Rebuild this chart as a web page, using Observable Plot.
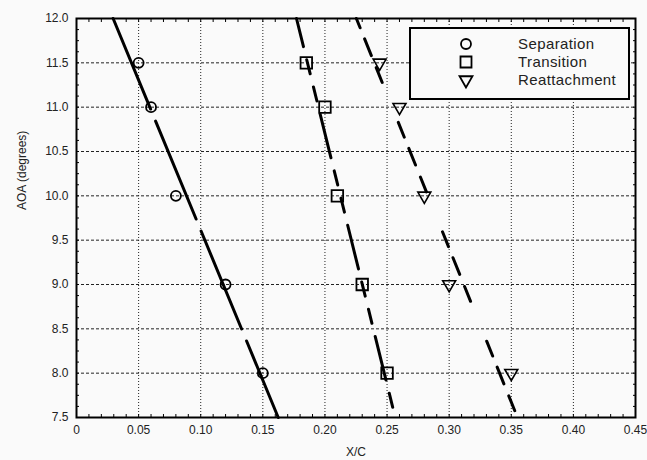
<!DOCTYPE html>
<html><head><meta charset="utf-8">
<script src="https://cdn.jsdelivr.net/npm/d3@7"></script>
<script src="https://cdn.jsdelivr.net/npm/@observablehq/plot@0.6"></script>
<style>
html,body{margin:0;padding:0;background:#fafafa;overflow:hidden;}
#chart{position:relative;width:647px;height:460px;}
#chart svg{display:block;}
</style></head><body><div id="chart"></div>
<script>
const seriesNames = ["Separation", "Transition", "Reattachment"];
const sepX = [0.05, 0.06, 0.08, 0.12, 0.15];
const sepY = [11.5, 11.0, 10.0, 9.0, 8.0];
const traX = [0.185, 0.20, 0.21, 0.23, 0.25];
const traY = [11.5, 11.0, 10.0, 9.0, 8.0];
const reaX = [0.244, 0.26, 0.28, 0.30, 0.35];
const reaY = [11.5, 11.0, 10.0, 9.0, 8.0];
// fitted lines, endpoints read where they meet the frame
const sepFitX = [0.0295, 0.1624];
const sepFitY = [12.0, 7.5];
const traFitX = [0.1771, 0.2566];
const traFitY = [12.0, 7.5];
const reaFitX = [0.2253, 0.355];
const reaFitY = [12.0, 7.5];
const xTicks = [0, 0.05, 0.10, 0.15, 0.20, 0.25, 0.30, 0.35, 0.40, 0.45];
const xTickLabels = ["0", "0.05", "0.10", "0.15", "0.20", "0.25", "0.30", "0.35", "0.40", "0.45"];
const yTicks = [7.5, 8.0, 8.5, 9.0, 9.5, 10.0, 10.5, 11.0, 11.5, 12.0];
const yTickLabels = ["7.5", "8.0", "8.5", "9.0", "9.5", "10.0", "10.5", "11.0", "11.5", "12.0"];
const xLabel = "X/C";
const yLabel = "AOA (degrees)";

const xMinor = d3.range(0, 0.4501, 0.01);
const yMinor = d3.range(7.5, 12.001, 0.125);
const xLab = new Map(xTicks.map((t, i) => [t, xTickLabels[i]]));
const yLab = new Map(yTicks.map((t, i) => [t, yTickLabels[i]]));
const pts = (xs, ys) => xs.map((x, i) => ({x, y: ys[i]}));

const FONT = "'Liberation Sans', Arial, sans-serif";
const BG = "#fafafa";

const plot = Plot.plot({
  width: 647, height: 460,
  marginLeft: 76, marginRight: 12, marginTop: 18, marginBottom: 43,
  style: {background: BG, fontFamily: FONT, fontSize: "12px", color: "#111", overflow: "visible"},
  x: {domain: [0, 0.45]},
  y: {domain: [7.5, 12]},
  marks: [
    Plot.gridX(xTicks.slice(1, -1), {stroke: "#222", strokeOpacity: 1, strokeDasharray: "1,2"}),
    Plot.gridY(yTicks.slice(1, -1), {stroke: "#222", strokeOpacity: 1, strokeDasharray: "3,2"}),
    Plot.axisX(xMinor, {anchor: "bottom", tickSize: -3, fill: "none", label: null, stroke: "#000"}),
    Plot.axisX(xMinor, {anchor: "top", tickSize: -3, fill: "none", label: null, stroke: "#000"}),
    Plot.axisY(yMinor, {anchor: "left", tickSize: -3, fill: "none", label: null, stroke: "#000"}),
    Plot.axisY(yMinor, {anchor: "right", tickSize: -3, fill: "none", label: null, stroke: "#000"}),
    Plot.line(pts(sepFitX, sepFitY), {x: "x", y: "y", stroke: "#000", strokeWidth: 3, strokeDasharray: "106,13", strokeDashoffset: 8}),
    Plot.line(pts(traFitX, traFitY), {x: "x", y: "y", stroke: "#000", strokeWidth: 3, strokeDasharray: "45,13.5,14.5,13.5,14.5,13.5", strokeDashoffset: 16}),
    Plot.line(pts(reaFitX, reaFitY), {x: "x", y: "y", stroke: "#000", strokeWidth: 3, strokeDasharray: "16,12,18,13,16,43", strokeDashoffset: 6}),
    Plot.dot(pts(sepX, sepY), {x: "x", y: "y", symbol: "circle", r: 5, fill: "none", stroke: "#000", strokeWidth: 1.8}),
    Plot.dot(pts(traX, traY), {x: "x", y: "y", symbol: "square", r: 6.5, fill: "none", stroke: "#000", strokeWidth: 1.8}),
    Plot.dot(pts(reaX, reaY), {x: "x", y: "y", symbol: "triangle", r: 4.8, rotate: 180, fill: "none", stroke: "#000", strokeWidth: 1.6}),
    Plot.frame({stroke: "#000", strokeWidth: 2}),
    Plot.axisX(xTicks, {anchor: "bottom", tickSize: 0, tickPadding: 8, tickFormat: d => xLab.get(d), label: null, fill: "#222", fontSize: 12}),
    Plot.axisY(yTicks, {anchor: "left", tickSize: 0, tickPadding: 8, tickFormat: d => yLab.get(d), label: null, fill: "#222", fontSize: 12}),
    Plot.text([xLabel], {frameAnchor: "bottom", dy: 35, text: d => d, fill: "#222", fontSize: 12, lineAnchor: "middle"}),
    Plot.text([yLabel], {frameAnchor: "left", dx: -54, dy: -8, rotate: -90, text: d => d, fill: "#222", fontSize: 12, lineAnchor: "middle"})
  ]
});
document.getElementById("chart").appendChild(plot);

// legend
const svg = d3.select(plot);
const lg = svg.append("g").attr("font-family", FONT).attr("font-size", 15).attr("text-anchor", "start");
lg.append("rect").attr("x", 410).attr("y", 28).attr("width", 219).attr("height", 71)
  .attr("fill", BG).attr("stroke", "#000").attr("stroke-width", 2);
const syms = [
  {sym: d3.symbolCircle, size: Math.PI * 25, rot: 0},
  {sym: d3.symbolSquare, size: 121, rot: 0},
  {sym: d3.symbolTriangle, size: Math.PI * 4.8 * 4.8, rot: 180}
];
seriesNames.forEach((name, i) => {
  const cy = 44 + i * 18;
  lg.append("path").attr("d", d3.symbol(syms[i].sym, syms[i].size)())
    .attr("transform", `translate(466,${cy}) rotate(${syms[i].rot})`)
    .attr("fill", "none").attr("stroke", "#000").attr("stroke-width", 1.8);
  lg.append("text").attr("x", 518).attr("y", cy + 5).attr("fill", "#222")
    .attr("text-anchor", "start").attr("letter-spacing", "0.4px").text(name);
});
</script>
</body></html>
